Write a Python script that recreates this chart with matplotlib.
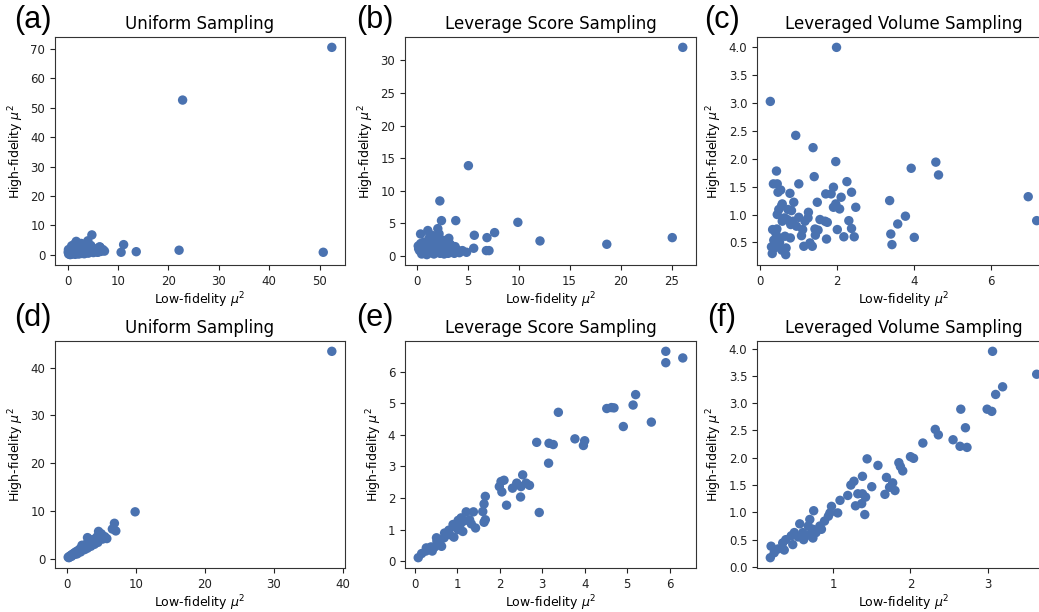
import matplotlib
matplotlib.use("Agg")
import matplotlib.pyplot as plt
from matplotlib.ticker import MultipleLocator

# (a) uniform sampling, raw
a_x = [52.4, 22.8, 50.7, 22.1, 13.6, 11.1, 10.6, 4.8, 7.3, 6.4, 6.1, 4.0, 1.7,
       0.2, 0.3, 0.4, 0.5, 0.6, 0.7, 0.8, 0.9, 1.0, 1.1, 1.2, 1.3, 1.4, 1.5, 1.6,
       1.8, 1.9, 2.0, 2.1, 2.2, 2.3, 2.4, 2.5, 2.6, 2.7, 2.8, 2.9, 3.0, 3.2, 3.3,
       3.4, 3.5, 3.6, 3.8, 3.9, 4.1, 4.2, 4.4, 4.6, 4.9, 5.1, 5.3, 5.6, 5.9, 6.1,
       6.3, 6.6, 7.0, 0.1, 0.15, 0.5, 1.0]
a_y = [70.5, 52.6, 0.9, 1.6, 1.1, 3.5, 0.9, 6.8, 1.3, 2.7, 1.0, 4.8, 4.6,
       0.3, 1.2, 0.6, 2.1, 0.2, 1.6, 3.1, 0.9, 2.5, 0.4, 1.9, 3.6, 1.1, 0.2, 2.8,
       1.4, 0.7, 3.3, 2.0, 0.3, 1.7, 2.9, 0.9, 1.3, 3.9, 0.5, 2.2, 1.0, 2.6, 0.4,
       1.5, 3.0, 0.8, 2.0, 1.2, 0.6, 2.4, 1.0, 3.2, 1.6, 0.8, 2.1, 1.4, 0.9, 1.9,
       2.7, 1.2, 1.8, 0.9, 1.8, 0.1, 1.2]

# (b) leverage score sampling, raw
b_x = [26.1, 5.08, 2.28, 2.44, 3.84, 9.93, 7.65, 5.66, 6.9, 12.1, 18.65, 25.07,
       5.6, 6.84, 7.1, 4.49, 4.9, 3.16, 2.08, 1.1, 0.39, 0.16, 3.78,
       0.3, 0.5, 0.6, 0.7, 0.8, 0.9, 1.0, 1.1, 1.2, 1.3, 1.4, 1.5, 1.6, 1.7, 1.8,
       1.9, 2.0, 2.1, 2.2, 2.3, 2.4, 2.5, 2.6, 2.7, 2.8, 2.9, 3.0, 3.1, 3.3, 3.4,
       3.5, 3.7, 4.0, 4.2, 0.4, 0.2, 1.3, 1.8, 2.3]
b_y = [32.0, 13.85, 8.44, 5.42, 5.42, 5.16, 3.58, 3.17, 2.81, 2.3, 1.79, 2.81,
       1.18, 0.82, 0.82, 0.82, 0.56, 2.71, 4.19, 3.9, 3.37, 1.53, 1.43,
       0.8, 0.3, 1.2, 2.1, 0.6, 1.6, 0.2, 1.0, 2.6, 0.5, 1.8, 0.9, 3.1, 0.3, 1.4,
       2.3, 0.7, 1.2, 3.4, 0.4, 1.9, 0.9, 2.4, 0.3, 1.5, 0.8, 1.1, 0.4, 1.8, 0.6,
       1.0, 0.4, 0.9, 0.5, 1.9, 1.1, 3.3, 2.8, 2.1]

# (c) leveraged volume sampling, raw
c_x = [1.98, 0.26, 0.92, 1.37, 1.96, 0.42, 3.92, 4.56, 4.63, 1.4, 1.0, 0.34,
       0.44, 0.53, 0.46, 0.77, 1.7, 1.9, 2.25, 2.37, 2.1, 1.84, 1.48, 0.87, 0.57,
       0.55, 1.9, 1.96, 2.06, 2.48, 3.36, 6.96, 7.18, 3.77, 3.57, 3.39, 3.42, 4.0,
       1.25, 1.0, 0.44, 0.63, 1.55, 1.74, 1.68, 2.3, 2.37, 2.44, 2.17, 2.0, 1.42,
       1.5, 1.43, 1.72, 1.13, 1.35, 1.29, 1.07, 1.1, 0.94, 0.79, 0.57, 0.7, 0.85,
       1.16, 1.24, 0.81, 0.72, 0.48, 0.32, 0.43, 0.4, 0.5, 0.64, 0.78, 0.35, 0.5,
       0.37, 0.67, 0.56, 0.31, 0.66, 0.44, 0.29]
c_y = [4.0, 3.03, 2.42, 2.2, 1.95, 1.78, 1.83, 1.94, 1.71, 1.68, 1.55, 1.55,
       1.55, 1.44, 1.4, 1.38, 1.37, 1.49, 1.59, 1.4, 1.31, 1.37, 1.22, 1.22, 1.19,
       1.15, 1.13, 1.19, 1.1, 1.13, 1.25, 1.32, 0.89, 0.97, 0.83, 0.65, 0.46, 0.59,
       1.04, 0.95, 1.0, 0.94, 0.91, 0.86, 0.88, 0.89, 0.75, 0.6, 0.6, 0.73, 0.74,
       0.72, 0.63, 0.56, 0.43, 0.43, 0.49, 0.62, 0.73, 0.79, 0.82, 0.88, 0.91, 0.88,
       0.88, 0.94, 1.07, 1.09, 1.09, 0.73, 0.74, 0.67, 0.58, 0.61, 0.58, 0.54, 0.5,
       0.4, 0.4, 0.36, 0.3, 0.28, 0.43, 0.42]

# (d) uniform sampling, corrected
d_x = [0.2, 0.3, 0.4, 0.5, 0.6, 0.7, 0.8, 0.9, 1.0, 1.1, 1.2, 1.3, 1.4, 1.5,
       1.6, 1.7, 1.8, 1.9, 2.0, 2.1, 2.2, 2.3, 2.4, 2.5, 2.6, 2.7, 2.8, 2.9, 3.0,
       3.1, 3.2, 3.3, 3.4, 3.6, 3.8, 4.0, 4.2, 4.4, 4.6, 4.8, 5.0, 5.2, 5.5, 5.8,
       6.6, 6.9, 7.1, 9.9, 38.4,
       1.5, 2.0, 2.6, 3.0, 3.5, 4.0, 4.5, 2.2, 3.3, 4.9]
d_y = [0.3, 0.2, 0.5, 0.4, 0.7, 0.5, 0.9, 0.8, 1.1, 0.9, 1.3, 1.0, 1.5, 1.3,
       1.6, 1.4, 1.9, 1.7, 2.1, 1.8, 2.4, 2.0, 2.6, 2.3, 2.8, 2.4, 3.0, 2.6, 4.4,
       3.2, 2.9, 3.5, 3.0, 3.7, 3.3, 4.1, 3.7, 4.6, 5.7, 4.3, 5.2, 4.1, 4.6, 4.2,
       6.2, 7.4, 5.8, 9.8, 43.4,
       1.0, 1.4, 1.9, 2.2, 2.6, 3.0, 3.4, 2.8, 4.0, 5.0]

# (e) leverage score sampling, corrected
e_x = [5.91, 5.91, 6.31, 5.2, 5.14, 5.57, 4.91, 4.69, 4.52, 4.63, 3.38, 3.77,
       4.0, 3.97, 3.16, 3.26, 2.87, 3.15, 2.93, 2.54, 2.7, 2.62, 2.4, 2.5, 2.3,
       2.49, 2.1, 2.03, 1.99, 2.05, 2.16, 1.66, 1.63, 1.6, 1.66, 1.63, 1.38, 1.21,
       1.43, 1.33, 1.17, 1.08, 1.13, 1.02, 0.9, 0.92, 0.8, 0.82, 0.69, 0.59, 0.51,
       0.63, 0.47, 0.38, 0.41, 0.26, 0.16, 0.08, 1.02, 0.96, 0.74, 0.52, 0.7, 0.27,
       1.29, 1.09]
e_y = [6.64, 6.28, 6.43, 5.27, 4.94, 4.4, 4.26, 4.85, 4.83, 4.86, 4.71, 3.87,
       3.81, 3.66, 3.73, 3.69, 3.76, 3.1, 1.54, 2.73, 2.4, 2.47, 2.47, 2.36, 2.31,
       2.03, 2.56, 2.52, 2.36, 2.19, 1.77, 2.05, 1.81, 1.57, 1.31, 1.23, 1.56, 1.56,
       1.05, 1.18, 1.28, 1.19, 0.94, 1.29, 1.16, 0.76, 0.98, 0.84, 0.74, 0.63, 0.74,
       0.47, 0.45, 0.45, 0.32, 0.32, 0.24, 0.11, 1.0, 1.08, 0.84, 0.63, 0.89, 0.42,
       1.31, 1.37]

# (f) leveraged volume sampling, corrected
f_x = [3.06, 3.63, 3.19, 3.1, 2.99, 3.05, 2.65, 2.71, 2.32, 2.36, 2.55, 2.64,
       2.73, 2.16, 2.0, 2.04, 1.85, 1.87, 1.9, 1.58, 1.44, 1.69, 1.77, 1.73, 1.8,
       1.67, 1.5, 1.38, 1.27, 1.23, 1.32, 1.38, 1.42, 1.19, 1.29, 1.37, 1.41, 1.09,
       1.06, 0.98, 0.96, 0.75, 0.94, 0.89, 0.83, 0.74, 0.78, 0.68, 0.7, 0.57, 0.61,
       0.62, 0.5, 0.46, 0.48, 0.39, 0.35, 0.37, 0.29, 0.2, 0.24, 0.19, 0.55, 0.65,
       0.85, 0.72, 0.74]
f_y = [3.95, 3.53, 3.3, 3.16, 2.89, 2.85, 2.89, 2.55, 2.52, 2.42, 2.33, 2.21,
       2.19, 2.27, 2.02, 1.99, 1.91, 1.84, 1.76, 1.86, 1.98, 1.64, 1.54, 1.46, 1.4,
       1.33, 1.47, 1.66, 1.57, 1.5, 1.34, 1.34, 1.28, 1.31, 1.12, 1.16, 0.96, 1.22,
       0.99, 1.11, 0.99, 1.03, 0.93, 0.84, 0.75, 0.69, 0.63, 0.75, 0.87, 0.79, 0.63,
       0.5, 0.63, 0.57, 0.41, 0.5, 0.44, 0.31, 0.33, 0.38, 0.26, 0.17, 0.55, 0.57,
       0.69, 0.63, 0.53]

titles = ["Uniform Sampling", "Leverage Score Sampling", "Leveraged Volume Sampling"] * 2
letters = ["(a)", "(b)", "(c)", "(d)", "(e)", "(f)"]
panels = [(a_x, a_y), (b_x, b_y), (c_x, c_y), (d_x, d_y), (e_x, e_y), (f_x, f_y)]
x_steps = [10, 5, 2, 10, 1, 1]
y_steps = [10, 5, 0.5, 10, 1, 0.5]

W, H = 1039, 612
fig = plt.figure(figsize=(W / 100, H / 100), dpi=100)

# axes boxes in pixels: left, top, right, bottom
col_lr = [(55, 345), (405, 696), (757, 1050)]
row_tb = [(37, 265), (341, 568)]
letter_xy = [(14, 20), (356, 20), (704, 20), (14, 318), (356, 318), (707, 318)]

for i, (xs, ys) in enumerate(panels):
    l, r = col_lr[i % 3]
    t, b = row_tb[i // 3]
    ax = fig.add_axes([l / W, 1 - b / H, (r - l) / W, (b - t) / H])
    ax.scatter(xs, ys, s=46, color="#4a72b0", edgecolor="none")
    ax.xaxis.set_major_locator(MultipleLocator(x_steps[i]))
    ax.yaxis.set_major_locator(MultipleLocator(y_steps[i]))
    ax.set_title(titles[i], fontsize=12)
    ax.set_xlabel(r"Low-fidelity $\mu^2$", fontsize=9, labelpad=2)
    ax.set_ylabel(r"High-fidelity $\mu^2$", fontsize=9, labelpad=3)
    ax.tick_params(labelsize=8.5, colors="#222222")
    for sp in ax.spines.values():
        sp.set_color("#333333")
    lx, ly = letter_xy[i]
    fig.text(lx / W, 1 - ly / H, letters[i], fontsize=22, va="center", ha="left",
             family="Liberation Sans")

fig.savefig("out.png", dpi=100)
